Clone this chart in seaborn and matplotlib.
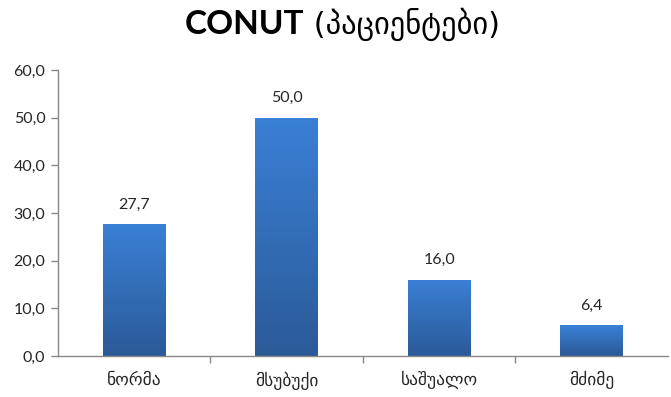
import numpy as np
import pandas as pd
import matplotlib
matplotlib.use("Agg")
import matplotlib.pyplot as plt
import seaborn as sns
from matplotlib.colors import LinearSegmentedColormap

categories = ["ნორმა", "მსუბუქი", "საშუალო", "მძიმე"]
values = [27.7, 50.0, 16.0, 6.4]
y_ticks = [0, 10, 20, 30, 40, 50, 60]
title_main = "CONUT"
title_sub = "(პაციენტები)"

sns.set_theme(style="white")
plt.rcParams["font.family"] = ["Lato", "DejaVu Sans"]

df = pd.DataFrame({"category": categories, "value": values})

fig = plt.figure(figsize=(6.71, 3.97), dpi=100)
ax = fig.add_axes([0.0864, 0.1033, 0.9091, 0.7204])

sns.barplot(data=df, x="category", y="value", ax=ax, color="#3670c0",
            width=0.41, saturation=1)

# vertical gradient fill clipped to each bar
grad = LinearSegmentedColormap.from_list("bar", ["#2b5a98", "#3a80d6"])
gradient = np.linspace(0, 1, 256).reshape(-1, 1)
for patch in ax.patches:
    x0, y0 = patch.get_x(), patch.get_y()
    w, h = patch.get_width(), patch.get_height()
    im = ax.imshow(gradient, cmap=grad, aspect="auto", origin="lower",
                   extent=[x0, x0 + w, y0, y0 + h], zorder=patch.get_zorder() + 0.1)
    im.set_clip_path(patch)
    patch.set_edgecolor("none")

for i, v in enumerate(values):
    ax.annotate(f"{v:.1f}".replace(".", ","), (i, v), xytext=(0, 9),
                textcoords="offset points", ha="center", va="bottom",
                fontsize=11.5, color="#262626")

ax.set_xlim(-0.5, len(categories) - 0.5)
ax.set_ylim(0, 60)
ax.set_yticks(y_ticks)
ax.set_yticklabels([f"{t:.1f}".replace(".", ",") for t in y_ticks],
                   fontsize=11.5, color="#262626")
ax.set_xticks(range(len(categories)))
ax.set_xticklabels(categories, fontsize=12.5, color="#262626",
                   family=["DejaVu Sans"])
ax.set_xticks(np.arange(0.5, len(categories) - 0.5, 1), minor=True)
ax.tick_params(axis="x", which="major", length=0, pad=11)
ax.tick_params(axis="x", which="minor", length=5, color="#888888", width=1,
               bottom=True, direction="out")
ax.tick_params(axis="y", length=5, color="#888888", width=1, left=True,
               direction="out", pad=4)
ax.set_xlabel("")
ax.set_ylabel("")

for side in ["top", "right"]:
    ax.spines[side].set_visible(False)
for side in ["left", "bottom"]:
    ax.spines[side].set_color("#888888")
    ax.spines[side].set_linewidth(1)

# title: bold latin part followed by regular Georgian part
fig.canvas.draw()
renderer = fig.canvas.get_renderer()
t1 = fig.text(0.5, 0.915, title_main, fontsize=24, fontweight="bold",
              family=["Lato"], color="black", ha="left", va="baseline")
t2 = fig.text(0.5, 0.915, " " + title_sub, fontsize=22,
              family=["DejaVu Sans"], color="black", ha="left", va="baseline")
w1 = t1.get_window_extent(renderer).width
w2 = t2.get_window_extent(renderer).width
total = w1 + w2
start = (fig.bbox.width - total) / 2 + 0.01 * fig.bbox.width
t1.set_x(start / fig.bbox.width)
t2.set_x((start + w1) / fig.bbox.width)

fig.savefig("out.png", dpi=100)
